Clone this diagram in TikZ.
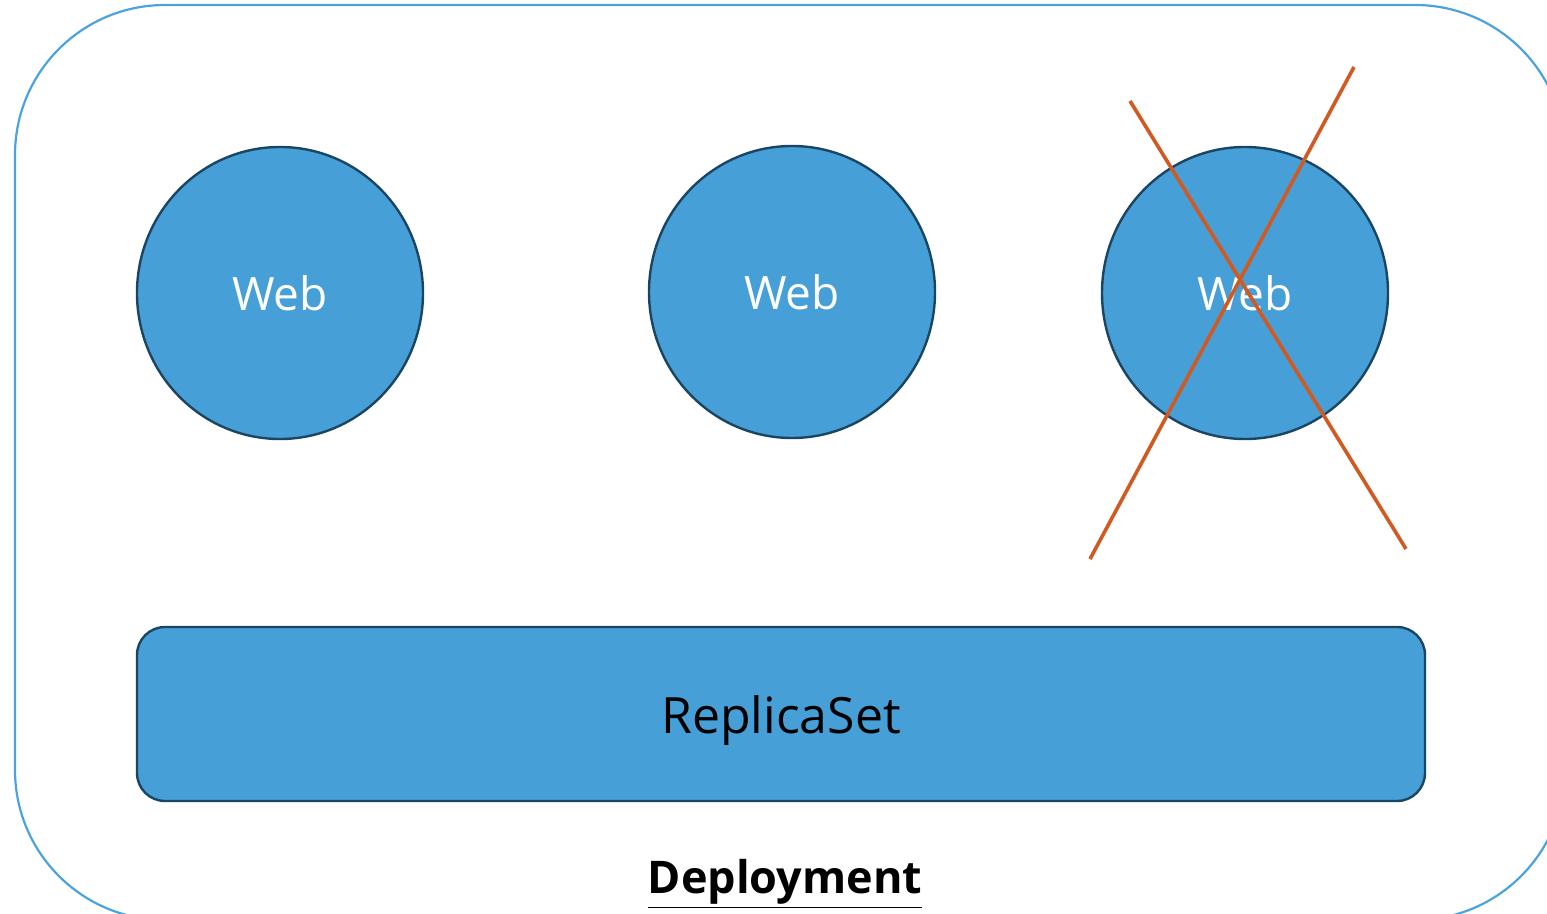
\documentclass[tikz,border=0pt]{standalone}
\usepackage{fontspec}
\setmainfont{Open Sans}
\usetikzlibrary{shapes.geometric,positioning}
\definecolor{podblue}{RGB}{70,159,214}
\definecolor{podedge}{RGB}{27,70,99}
\definecolor{frameblue}{RGB}{74,163,223}
\definecolor{crossred}{RGB}{208,90,34}

\begin{document}
\begin{tikzpicture}[
    x=0.5pt, y=-0.5pt,
    webpod/.style={ellipse, draw=podedge, line width=1.2pt, fill=podblue, minimum width=143pt, minimum height=146pt, inner sep=0pt, text=white, font=\fontsize{23}{28}\selectfont},
    replicabox/.style={rectangle, draw=podedge, line width=1.2pt, fill=podblue, rounded corners=14pt, minimum width=644pt, minimum height=87pt, font=\fontsize{25}{30}\selectfont},
    crossline/.style={draw=crossred, line width=1.8pt}
]
\useasboundingbox (0,0) rectangle (1547,914);

% Deployment frame
\draw[frameblue, line width=1.1pt, rounded corners=75pt] (15,5) rectangle (1565,920);

% Pods
\node[webpod] (web1) at (280,293) {Web};
\node[webpod] (web2) at (792,292) {Web};
\node[webpod] (web3) at (1245,293) {Web};

% ReplicaSet
\node[replicabox] (replica) at (781,714) {\raisebox{-9.5pt}[0pt][0pt]{ReplicaSet}};

% Deployment label
\node[font=\fontsize{22.5}{27}\selectfont\bfseries] (deploy) at (785,884) {\underline{Deployment}};

% Crossed out pod
\draw[crossline] (1130,101) -- (1406,549);
\draw[crossline] (1354,67) -- (1090,559);

\end{tikzpicture}
\end{document}
